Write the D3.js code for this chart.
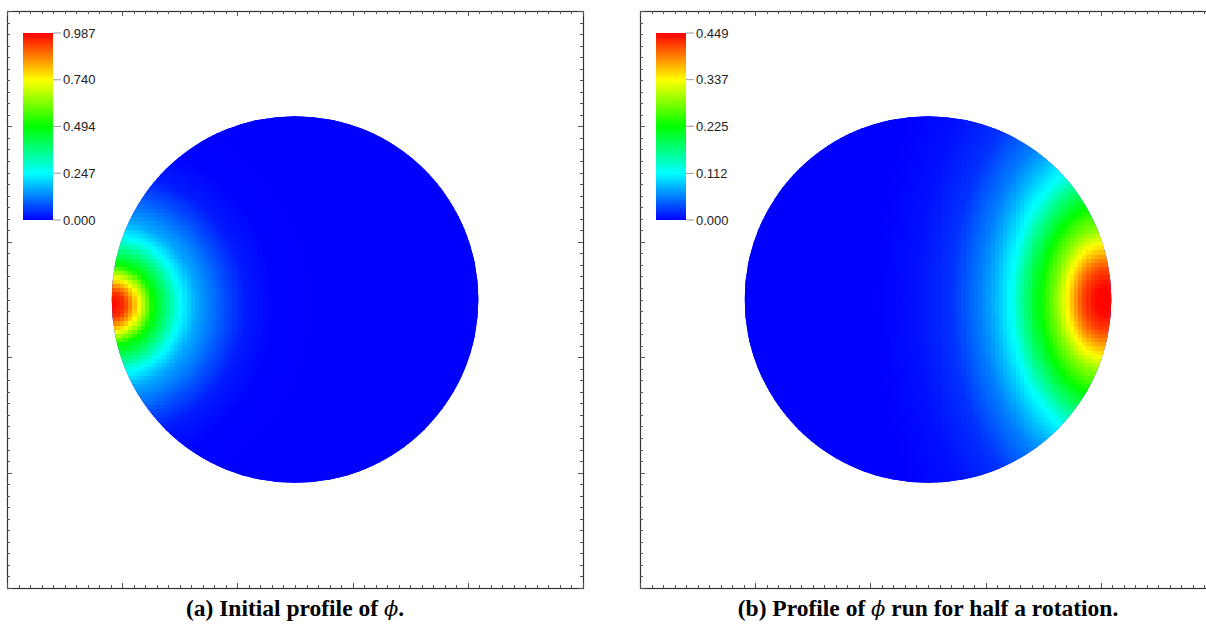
<!DOCTYPE html>
<html>
<head>
<meta charset="utf-8">
<script src="https://cdn.jsdelivr.net/npm/d3@7"></script>
<style>
	body { margin: 0; background: #fff; }
	svg { display: block; }
</style>
</head>
<body>
<div id="graph"></div>
<script>
// colour bar tick values
var barTicksA = [0.000, 0.247, 0.494, 0.740, 0.987];
var barTicksB = [0.000, 0.112, 0.225, 0.337, 0.449];

// phi against distance from the peak (disk radius = 1)
var distA = [0, 0.066, 0.109, 0.137, 0.18, 0.219, 0.3, 0.372, 0.454, 0.617, 0.727, 0.874, 1.1];
var phiA  = [0.987, 0.94, 0.84, 0.76, 0.63, 0.5, 0.37, 0.25, 0.165, 0.075, 0.025, 0.004, 0];
var distB = [0, 0.054, 0.109, 0.142, 0.196, 0.262, 0.343, 0.425, 0.507, 0.589, 0.67, 0.834, 1.035, 1.253];
var phiB  = [0.449, 0.445, 0.42, 0.395, 0.345, 0.285, 0.228, 0.172, 0.114, 0.082, 0.056, 0.022, 0.006, 0];

// peak position and vertical stretch of the pulse
var peakA = [-0.997, -0.025];
var peakB = [0.96, 0];
var stretchA = 1.0;
var stretchB = 1.5;

var captionA = ["(a) Initial profile of ", "\u03D5", "."];
var captionB = ["(b) Profile of ", "\u03D5", " run for half a rotation."];

var W = 1206, H = 629;
var frameW = 576, frameH = 577, frameTop = 11;
var half = Math.PI / 2;
var nCells = 88;

var vis = d3.select("#graph").append("svg")
	.attr("width", W)
	.attr("height", H);

function rainbow(t) {
	return d3.hsl(240 * (1 - t), 1, 0.5).toString();
}

var grad = vis.append("defs").append("linearGradient")
	.attr("id", "bar")
	.attr("x1", 0).attr("y1", 1).attr("x2", 0).attr("y2", 0);
grad.selectAll("stop")
	.data(d3.range(0, 1.0001, 0.05))
	.enter().append("stop")
	.attr("offset", function (d) { return d; })
	.attr("stop-color", function (d) { return rainbow(d); });

function drawPanel(left, id, dist, phi, peak, stretch, ticks, caption) {
	var x = d3.scaleLinear().domain([-half, half]).range([left, left + frameW]);
	var y = d3.scaleLinear().domain([-half, half]).range([frameTop + frameH, frameTop]);
	var g = vis.append("g");

	var profile = d3.scaleLinear().domain(dist).range(phi).clamp(true);
	var maxV = ticks[ticks.length - 1];
	var color = d3.scaleSequential(rainbow).domain([0, maxV]).clamp(true);

	g.append("clipPath").attr("id", "disk" + id)
		.append("circle")
		.attr("cx", x(0)).attr("cy", y(0))
		.attr("r", x(1) - x(0));

	var h = 2 / nCells;
	var cells = [];
	for (var i = 0; i < nCells; i++) {
		for (var j = 0; j < nCells; j++) {
			var cx = -1 + (i + 0.5) * h, cy = -1 + (j + 0.5) * h;
			if (Math.sqrt(cx * cx + cy * cy) > 1 + h) continue;
			var dx = cx - peak[0], dy = (cy - peak[1]) / stretch;
			cells.push({ x: cx, y: cy, v: profile(Math.sqrt(dx * dx + dy * dy)) });
		}
	}
	var cw = x(h) - x(0);
	// blue underlay so no seams show between cells
	g.append("circle")
		.attr("cx", x(0)).attr("cy", y(0))
		.attr("r", x(1) - x(0))
		.attr("fill", color(0));
	g.append("g").attr("clip-path", "url(#disk" + id + ")")
		.attr("shape-rendering", "crispEdges")
		.selectAll("rect")
		.data(cells)
		.enter().append("rect")
		.attr("x", function (d) { return x(d.x - h / 2); })
		.attr("y", function (d) { return y(d.y + h / 2); })
		.attr("width", cw + 1)
		.attr("height", cw + 1)
		.attr("fill", function (d) { return color(d.v); });

	// frame with inward ticks
	g.append("rect")
		.attr("x", left + 0.5).attr("y", frameTop + 0.5)
		.attr("width", frameW).attr("height", frameH)
		.attr("fill", "none").attr("stroke", "#333").attr("stroke-width", 1.2);

	var tk = d3.range(0, 51);
	var tx = d3.scaleLinear().domain([0, 50]).range([left, left + frameW]);
	var ty = d3.scaleLinear().domain([0, 50]).range([frameTop, frameTop + frameH]);
	function len(i) { return i % 10 === 0 ? 5 : 3; }
	var tg = g.append("g").attr("stroke", "#555").attr("stroke-width", 1);
	tg.selectAll(".tb").data(tk).enter().append("line")
		.attr("x1", function (d) { return Math.round(tx(d)) + 0.5; })
		.attr("x2", function (d) { return Math.round(tx(d)) + 0.5; })
		.attr("y1", frameTop + frameH)
		.attr("y2", function (d) { return frameTop + frameH - len(d); });
	tg.selectAll(".tt").data(tk).enter().append("line")
		.attr("x1", function (d) { return Math.round(tx(d)) + 0.5; })
		.attr("x2", function (d) { return Math.round(tx(d)) + 0.5; })
		.attr("y1", frameTop)
		.attr("y2", function (d) { return frameTop + len(d); });
	tg.selectAll(".tl").data(tk).enter().append("line")
		.attr("y1", function (d) { return Math.round(ty(d)) + 0.5; })
		.attr("y2", function (d) { return Math.round(ty(d)) + 0.5; })
		.attr("x1", left)
		.attr("x2", function (d) { return left + len(d); });
	tg.selectAll(".tr").data(tk).enter().append("line")
		.attr("y1", function (d) { return Math.round(ty(d)) + 0.5; })
		.attr("y2", function (d) { return Math.round(ty(d)) + 0.5; })
		.attr("x1", left + frameW)
		.attr("x2", function (d) { return left + frameW - len(d); });

	// colour bar
	var bx = left + 16;
	var bw = 30;
	var by = d3.scaleLinear().domain([0, maxV]).range([220, 33]);
	g.append("rect")
		.attr("x", bx).attr("y", by(maxV))
		.attr("width", bw).attr("height", by(0) - by(maxV))
		.attr("fill", "url(#bar)");
	g.selectAll(".bt").data(ticks).enter().append("line")
		.attr("x1", bx + bw).attr("x2", bx + bw + 8)
		.attr("y1", function (d) { return by(d); })
		.attr("y2", function (d) { return by(d); })
		.attr("stroke", "#999").attr("stroke-width", 1);
	g.selectAll(".bl").data(ticks).enter().append("text")
		.attr("x", bx + bw + 10)
		.attr("y", function (d) { return by(d); })
		.attr("dy", "0.35em")
		.attr("font-family", "Liberation Sans, Arial, sans-serif")
		.attr("font-size", 13)
		.attr("fill", "#222")
		.text(function (d) { return d3.format(".3f")(d); });

	// caption
	var t = vis.append("text")
		.attr("x", x(0))
		.attr("y", 616)
		.attr("text-anchor", "middle")
		.attr("font-family", "Liberation Serif, Times New Roman, serif")
		.attr("font-size", 23.5)
		.attr("font-weight", "bold")
		.attr("fill", "#000");
	t.selectAll("tspan").data(caption).enter().append("tspan")
		.attr("font-family", function (d, i) { return i === 1 ? "DejaVu Serif, serif" : null; })
		.attr("font-size", function (d, i) { return i === 1 ? 21 : null; })
		.attr("font-style", function (d, i) { return i === 1 ? "italic" : "normal"; })
		.attr("font-weight", function (d, i) { return i === 1 ? "normal" : "bold"; })
		.text(function (d) { return d; });
}

drawPanel(7, "A", distA, phiA, peakA, stretchA, barTicksA, captionA);
drawPanel(640, "B", distB, phiB, peakB, stretchB, barTicksB, captionB);
</script>
</body>
</html>
